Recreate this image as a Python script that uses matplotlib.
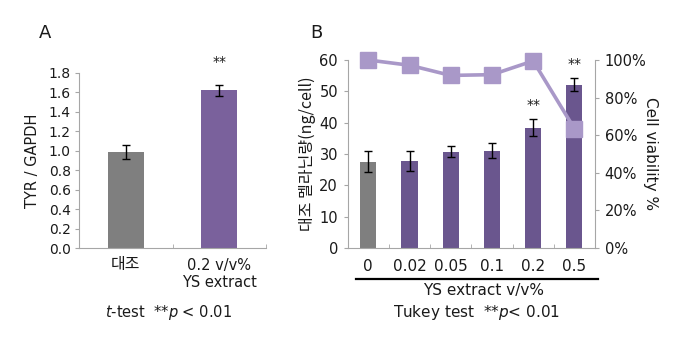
import matplotlib
matplotlib.use("Agg")
import matplotlib.pyplot as plt
from matplotlib.lines import Line2D
import numpy as np

plt.rcParams['font.family'] = ['DejaVu Sans', 'Noto Sans CJK KR']
plt.rcParams['mathtext.fontset'] = 'dejavusans'
KR = ['Noto Sans CJK KR', 'DejaVu Sans']

# ---- data ----
a_categories = ["대조", "0.2 v/v%\nYS extract"]
a_values = [0.99, 1.62]
a_errors = [0.07, 0.06]
a_ticks = [0.0, 0.2, 0.4, 0.6, 0.8, 1.0, 1.2, 1.4, 1.6, 1.8]

b_categories = ["0", "0.02", "0.05", "0.1", "0.2", "0.5"]
b_melanin = [27.5, 27.9, 30.7, 31.1, 38.4, 52.1]
b_errors = [3.4, 3.2, 1.8, 2.5, 2.8, 2.1]
b_viability = [100.0, 97.2, 91.8, 92.2, 99.5, 63.5]
b_left_ticks = [0, 10, 20, 30, 40, 50, 60]
b_right_ticks = [0, 20, 40, 60, 80, 100]

W, H = 680, 346
fig = plt.figure(figsize=(W / 100, H / 100), dpi=100)

def fx(px):
    return px / W

def fy(py):
    return 1 - py / H

spine_c = '#a6a6a6'
txt_c = '#1a1a1a'
gray = '#7f7f7f'
purpleA = '#7a619c'
purpleB = '#6a568e'
lineC = '#a998c8'

# ---- Panel A ----
axA = fig.add_axes([fx(79), fy(248), fx(266) - fx(79), fy(73) - fy(248)])
xa = np.arange(len(a_values))
axA.bar(xa, a_values, width=0.385, color=[gray, purpleA], zorder=2)
axA.errorbar(xa, a_values, yerr=a_errors, fmt='none', ecolor='black',
             elinewidth=1, capsize=3, capthick=1, zorder=3)
axA.set_xlim(-0.5, 1.5)
axA.set_ylim(0, 1.8)
axA.set_yticks(a_ticks)
axA.set_yticklabels([f"{t:.1f}" for t in a_ticks])
axA.set_xticks(xa)
axA.set_xticklabels(["", a_categories[1]], linespacing=1.15)
axA.set_xticks([0.5, 1.5], minor=True)
axA.tick_params(axis='x', which='major', length=0, pad=7, labelsize=10.5, colors=txt_c)
axA.tick_params(axis='x', which='minor', length=3, direction='in', color=spine_c)
axA.tick_params(axis='y', length=3, color=spine_c, labelsize=10, labelcolor=txt_c, pad=3)
for s in ['top', 'right']:
    axA.spines[s].set_visible(False)
for s in ['left', 'bottom']:
    axA.spines[s].set_color(spine_c)
axA.set_ylabel("TYR / GAPDH", fontsize=10.5, color=txt_c, labelpad=6)
axA.text(1, 1.84, "**", ha='center', va='bottom', fontsize=10, color=txt_c)
fig.text(fx(125.5), fy(265), a_categories[0], ha='center', va='center',
         fontsize=11.5, family=KR, color=txt_c)

fig.text(fx(45), fy(33), "A", ha='center', va='center', fontsize=13, color=txt_c)
fig.text(fx(168), fy(312), r"$\it{t}$-test  **$\it{p}$ < 0.01", ha='center', va='center',
         fontsize=10.5, color=txt_c)

# ---- Panel B ----
axB = fig.add_axes([fx(347.7), fy(248), fx(595) - fx(347.7), fy(60) - fy(248)])
xb = np.arange(len(b_melanin))
axB.bar(xb, b_melanin, width=0.39, color=[gray] + [purpleB] * 5, zorder=2)
axB.errorbar(xb, b_melanin, yerr=b_errors, fmt='none', ecolor='black',
             elinewidth=1, capsize=3, capthick=1, zorder=3)
axB.set_xlim(-0.5, 5.5)
axB.set_ylim(0, 60)
axB.set_yticks(b_left_ticks)
axB.set_xticks(xb)
axB.set_xticklabels(b_categories)
axB.set_xticks(np.arange(0.5, 5.6, 1.0), minor=True)
axB.tick_params(axis='x', which='major', length=0, pad=8, labelsize=11, colors=txt_c)
axB.tick_params(axis='x', which='minor', length=3, direction='in', color=spine_c)
axB.tick_params(axis='y', length=3, color=spine_c, labelsize=10.5, labelcolor=txt_c, pad=4)
for s in ['top', 'right']:
    axB.spines[s].set_visible(False)
for s in ['left', 'bottom']:
    axB.spines[s].set_color(spine_c)
axB.set_ylabel("대조 멜라닌량(ng/cell)", fontsize=11.5, family=KR, color=txt_c, labelpad=2)
for i in [4, 5]:
    axB.text(xb[i], b_melanin[i] + b_errors[i] + 2.2, "**", ha='center', va='bottom',
             fontsize=10, color=txt_c)

axR = axB.twinx()
axR.set_ylim(0, 100)
axR.plot(xb, b_viability, color=lineC, lw=2.6, marker='s', markersize=11,
         markerfacecolor=lineC, markeredgecolor=lineC, zorder=5, clip_on=False)
axR.set_yticks(b_right_ticks)
axR.set_yticklabels([f"{t}%" for t in b_right_ticks])
axR.tick_params(axis='y', length=3, color=spine_c, labelsize=10.5, labelcolor=txt_c, pad=4)
for s in ['top', 'left', 'bottom']:
    axR.spines[s].set_visible(False)
axR.spines['right'].set_color(spine_c)
axR.set_ylabel("Cell viability %", rotation=270, fontsize=11, color=txt_c, labelpad=8)

fig.text(fx(316), fy(33), "B", ha='center', va='center', fontsize=13, color=txt_c)
fig.add_artist(Line2D([fx(355.7), fx(598)], [fy(279), fy(279)], color='black', lw=1.6))
fig.text(fx(484), fy(291), "YS extract v/v%", ha='center', va='center', fontsize=11, color=txt_c)
fig.text(fx(477), fy(313), r"Tukey test  **$\it{p}$< 0.01", ha='center', va='center',
         fontsize=11, color=txt_c)

fig.savefig("out.png", dpi=100)
